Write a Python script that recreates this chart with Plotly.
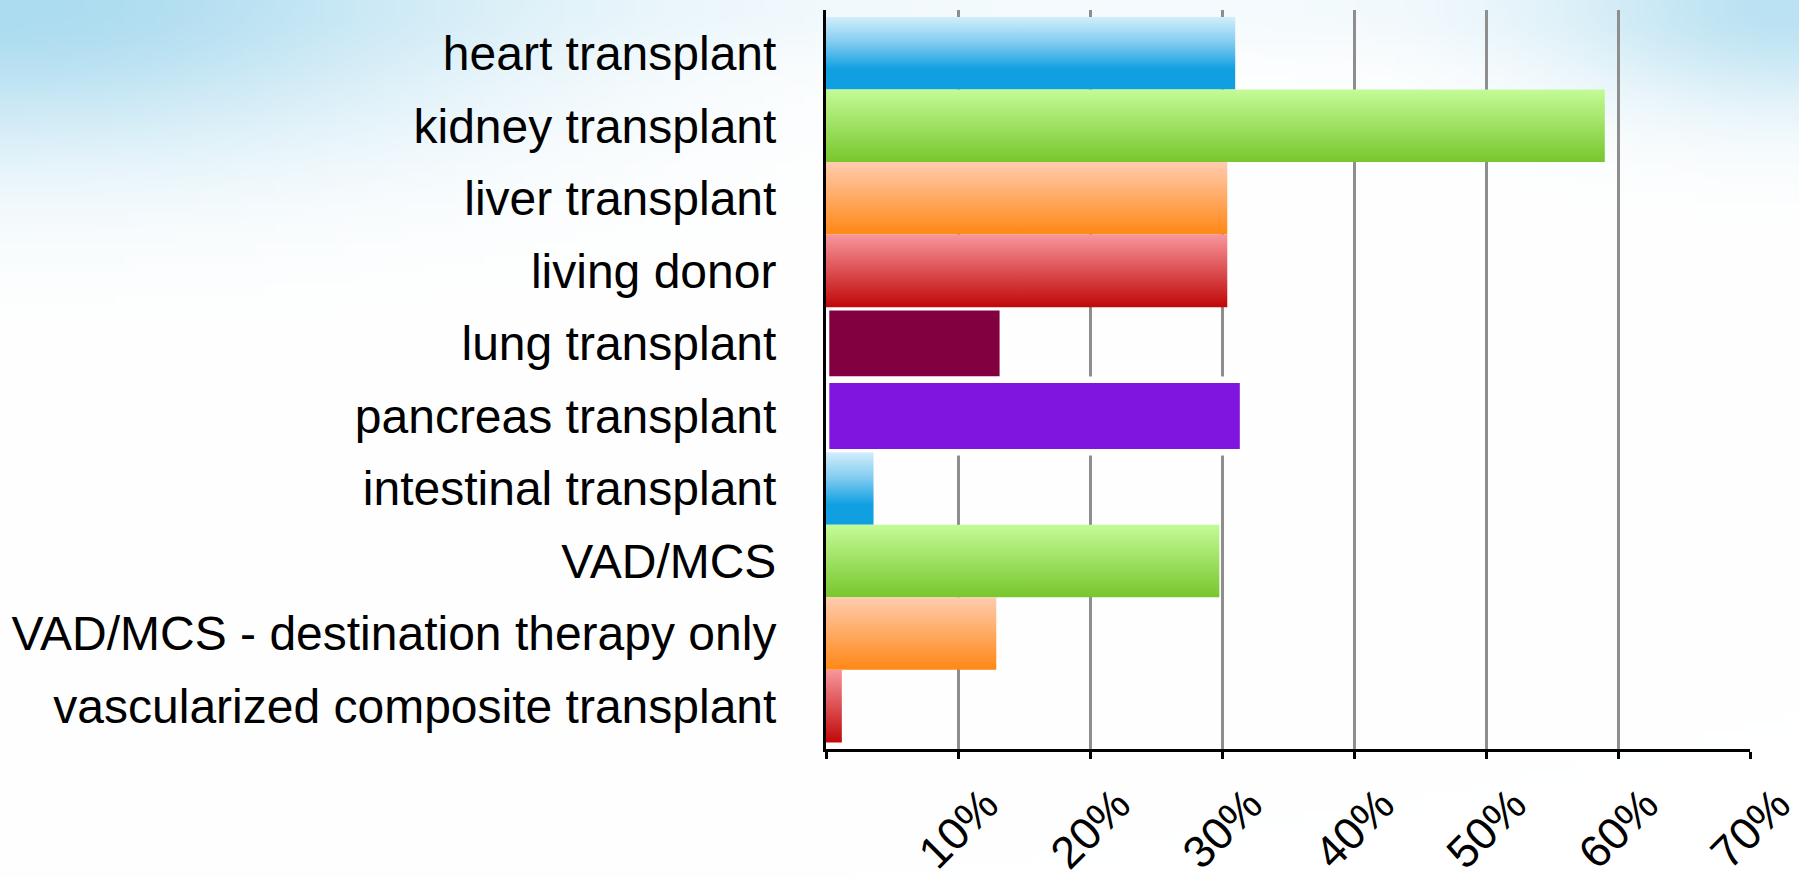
import base64
import struct
import zlib

import numpy as np
import plotly.graph_objects as go

# ---------------- data ----------------
categories = [
    "heart transplant",
    "kidney transplant",
    "liver transplant",
    "living donor",
    "lung transplant",
    "pancreas transplant",
    "intestinal transplant",
    "VAD/MCS",
    "VAD/MCS - destination therapy only",
    "vascularized composite transplant",
]
values = [31.0, 59.0, 30.4, 30.4, 13.4, 31.6, 3.6, 29.8, 12.9, 1.2]
styles = ["blue", "green", "orange", "red", "lung", "pancreas",
          "blue", "green", "orange", "red"]
tick_values = [10, 20, 30, 40, 50, 60, 70]
tick_labels = ["10%", "20%", "30%", "40%", "50%", "60%", "70%"]

# ---------------- styling ----------------
W, H = 1799, 877
ML, MR, MT, MB = 826, 49, 10, 128
PW, PH = W - ML - MR, H - MT - MB
FONT = "Liberation Sans, Arial, Helvetica, sans-serif"

gradients = {
    "blue": [[0, "#d2eefb"], [0.35, "#82ccf0"], [0.72, "#10a0e2"], [1, "#10a0e2"]],
    "green": [[0, "#c4fb98"], [1, "#78c62c"]],
    "orange": [[0, "#ffccb0"], [1, "#ff8714"]],
    "red": [[0, "#f8969c"], [1, "#c00808"]],
}
solids = {"lung": "#820040", "pancreas": "#8015e0"}


# background gradient image (light blue wash top-left and top-right)
def make_png(arr):
    h, w, _ = arr.shape
    raw = b"".join(b"\x00" + arr[r].tobytes() for r in range(h))

    def chunk(tag, data):
        c = struct.pack(">I", len(data)) + tag + data
        return c + struct.pack(">I", zlib.crc32(tag + data) & 0xFFFFFFFF)

    return (b"\x89PNG\r\n\x1a\n"
            + chunk(b"IHDR", struct.pack(">IIBBBBB", w, h, 8, 2, 0, 0, 0))
            + chunk(b"IDAT", zlib.compress(raw, 9))
            + chunk(b"IEND", b""))


gw, gh = 180, 88
X, Y = np.meshgrid(np.linspace(0, W, gw), np.linspace(0, H, gh))
i_left = np.exp(-(X / 480.0) ** 2 - ((Y + 5) / 155.0) ** 2)
i_right = 0.8 * np.exp(-((W - X) / 240.0) ** 2 - (Y / 105.0) ** 2)
i_top = 0.12 * np.exp(-(Y / 50.0) ** 2)
inten = 1 - (1 - i_left) * (1 - i_right) * (1 - i_top)
base = np.array([172, 220, 240], dtype=float)
img = 255 * (1 - inten[..., None]) + base * inten[..., None]
img = np.clip(img, 0, 255).astype(np.uint8)
bg_uri = "data:image/png;base64," + base64.b64encode(make_png(img)).decode()

fig = go.Figure()

# solid bars first (white halo drawn around them)
order = [i for i, s in enumerate(styles) if s in solids] + \
        [i for i, s in enumerate(styles) if s not in solids]
for i in order:
    v = values[i]
    xs = [0, v, v, 0, 0]
    ys = [i - 0.5, i - 0.5, i + 0.5, i + 0.5, i - 0.5]
    s = styles[i]
    if s in solids:
        fig.add_trace(go.Scatter(
            x=xs, y=ys, mode="lines", fill="toself",
            fillcolor=solids[s], line=dict(color="white", width=6.6),
            hoverinfo="skip", showlegend=False))
    else:
        fig.add_trace(go.Scatter(
            x=xs, y=ys, mode="lines", fill="toself",
            line=dict(width=0),
            fillgradient=dict(type="vertical", colorscale=gradients[s],
                              start=i - 0.5, stop=i + 0.5),
            hoverinfo="skip", showlegend=False))

# rotated x tick labels, centred under the ticks
for tv, tl in zip(tick_values, tick_labels):
    fig.add_annotation(
        x=tv, y=-0.107, xref="x", yref="paper", text=tl, showarrow=False,
        textangle=-45, xanchor="center", yanchor="middle", xshift=0,
        font=dict(family=FONT, size=45, color="black"))

pad_top = 7 / 72.57
pad_bot = 6.6 / 72.57
fig.update_layout(
    width=W, height=H, autosize=False,
    margin=dict(l=ML, r=MR, t=MT, b=MB, pad=0, autoexpand=False),
    paper_bgcolor="white",
    plot_bgcolor="rgba(0,0,0,0)",
    showlegend=False,
    images=[dict(source=bg_uri, xref="paper", yref="paper",
                 x=-ML / PW, y=1 + MT / PH, sizex=W / PW, sizey=H / PH,
                 xanchor="left", yanchor="top", sizing="stretch",
                 layer="below")],
    xaxis=dict(
        range=[0, 70], tickvals=[0] + tick_values, showticklabels=False,
        ticks="outside", ticklen=7, tickwidth=2.5, tickcolor="black",
        showgrid=True, gridcolor="#8e8e8e", gridwidth=2.5,
        showline=True, linecolor="black", linewidth=2.5,
        zeroline=False, fixedrange=True, automargin=False,
    ),
    yaxis=dict(
        range=[len(categories) - 0.5 + pad_bot, -0.5 - pad_top],
        tickvals=list(range(len(categories))), ticktext=categories,
        ticks="", ticklabelstandoff=37,
        tickfont=dict(family=FONT, size=48, color="black"),
        showgrid=False, zeroline=False, automargin=False,
        showline=True, linecolor="black", linewidth=3, fixedrange=True,
    ),
    shapes=[
        dict(type="line", xref="x", xsizemode="pixel", xanchor=0,
             x0=-9, x1=0, yref="paper", y0=1, y1=1,
             line=dict(color="black", width=2.5)),
        dict(type="line", xref="x", xsizemode="pixel", xanchor=0,
             x0=-9, x1=0, yref="paper", y0=0, y1=0,
             line=dict(color="black", width=2.5)),
    ],
)

fig.write_html(
    "out.html",
    config={"displayModeBar": False, "responsive": False},
    post_script="document.body.style.margin='0px';"
                "document.body.style.overflow='hidden';",
)
